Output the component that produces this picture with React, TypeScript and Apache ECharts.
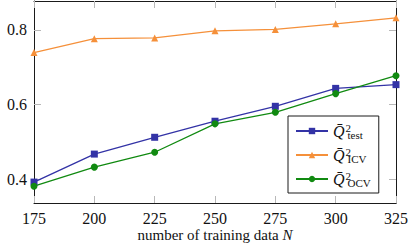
import React, { useEffect, useRef } from "react";
import * as echarts from "echarts";

const trainingN = [175, 200, 225, 250, 275, 300, 325];
const q2Test = [0.392, 0.467, 0.512, 0.555, 0.595, 0.643, 0.653];
const q2ICV = [0.739, 0.776, 0.778, 0.797, 0.801, 0.816, 0.832];
const q2OCV = [0.381, 0.432, 0.472, 0.548, 0.579, 0.629, 0.677];
const yTicks = [0.4, 0.6, 0.8];
const xTicks = [175, 200, 225, 250, 275, 300, 325];
const seriesNames = ["test", "ICV", "OCV"];

const FONT = "Liberation Serif";

export default function App() {
  const ref = useRef<HTMLDivElement>(null);
  useEffect(() => {
    const chart = echarts.init(ref.current!, null, { renderer: "svg" });
    const tickStyle = { show: true, inside: true, length: 7, lineStyle: { color: "#b8b8b8", width: 1 } };
    const lineAx = { show: true, onZero: false, lineStyle: { color: "#1a1a1a", width: 1 } };
    const mk = (name: string, data: number[], color: string, symbol: string, size: number) => ({
      name,
      type: "line",
      data: trainingN.map((n, i) => [n, data[i]]),
      symbol,
      symbolSize: size,
      lineStyle: { color, width: 1.3 },
      itemStyle: { color },
      z: 3,
    });
    chart.setOption({
      animation: false,
      grid: { left: 34, right: 19, top: 1, bottom: 42, containLabel: false, outerBoundsMode: "none" },
      xAxis: [
        {
          type: "value",
          min: 175,
          max: 325,
          interval: 25,
          axisLine: lineAx,
          axisTick: { ...tickStyle, customValues: xTicks },
          splitLine: { show: false },
          axisLabel: { customValues: xTicks, margin: 7, fontFamily: FONT, fontSize: 16, color: "#111" },
          name: "number of training data {i|N}",
          nameLocation: "middle",
          nameGap: 24,
          nameMoveOverlap: false,
          nameTextStyle: {
            fontFamily: FONT,
            fontSize: 15,
            color: "#111",
            rich: { i: { fontFamily: FONT, fontStyle: "italic", fontSize: 15, color: "#111" } },
          },
        },
        {
          type: "value",
          position: "top",
          min: 175,
          max: 325,
          interval: 25,
          axisLine: lineAx,
          axisTick: { ...tickStyle, customValues: xTicks },
          axisLabel: { show: false },
          splitLine: { show: false },
        },
      ],
      yAxis: [
        {
          type: "value",
          min: 0.336,
          max: 0.877,
          axisLine: lineAx,
          axisTick: { ...tickStyle, customValues: yTicks },
          splitLine: { show: false },
          axisLabel: {
            customValues: yTicks,
            margin: 7,
            fontFamily: FONT,
            fontSize: 16,
            color: "#111",
            formatter: (v: number) => v.toFixed(1),
          },
        },
        {
          type: "value",
          position: "right",
          min: 0.336,
          max: 0.877,
          axisLine: lineAx,
          axisTick: { ...tickStyle, customValues: yTicks },
          axisLabel: { show: false },
          splitLine: { show: false },
        },
      ],
      legend: {
        orient: "vertical",
        left: 288,
        top: 116,
        padding: [6, 8, 5, 7],
        itemGap: 6,
        itemWidth: 32,
        itemHeight: 8,
        borderColor: "#1a1a1a",
        borderWidth: 1,
        backgroundColor: "#fff",
        borderRadius: 0,
        data: seriesNames,
        formatter: (name: string) => `{q|Q̄}{s|2}{b|${name}}`,
        textStyle: {
          fontFamily: FONT,
          color: "#111",
          rich: {
            q: { fontFamily: FONT, fontStyle: "italic", fontSize: 16, color: "#111", lineHeight: 18, verticalAlign: "middle" },
            s: { fontFamily: FONT, fontSize: 11, color: "#111", width: 1, verticalAlign: "top", lineHeight: 18, padding: [0, 0, 0, 1] },
            b: { fontFamily: FONT, fontSize: 11, color: "#111", verticalAlign: "bottom", lineHeight: 18, padding: [4, 0, 0, 1] },
          },
        },
      },
      series: [
        mk("test", q2Test, "#3333a6", "rect", 7),
        mk("ICV", q2ICV, "#f5903a", "triangle", 7),
        mk("OCV", q2OCV, "#118a11", "circle", 7),
      ],
    });
    return () => chart.dispose();
  }, []);
  return <div ref={ref} style={{ width: 415, height: 245, position: "absolute", left: 0, top: 0 }} />;
}
